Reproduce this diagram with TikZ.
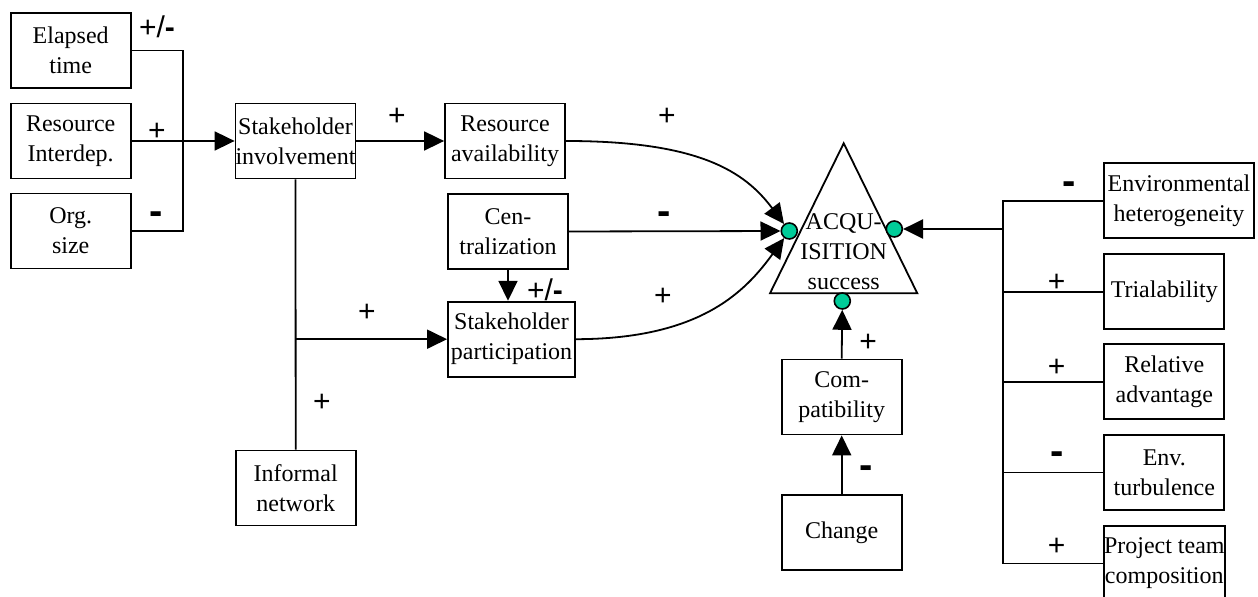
\documentclass[tikz,border=0pt]{standalone}
\usepackage{fontspec}
\setmainfont{Liberation Serif}
\newfontfamily\signfont{Liberation Sans}
\usetikzlibrary{arrows.meta}
\definecolor{tealgreen}{RGB}{0,204,153}

\begin{document}
\begin{tikzpicture}[x=0.5pt,y=-0.5pt,
    factor/.style={draw,line width=0.9pt,minimum width=60pt,minimum height=37.5pt,inner sep=0pt,align=center,
                   font=\fontsize{12}{15}\selectfont},
    link/.style={line width=0.9pt},
    arr/.style={link,-{Triangle[length=10pt,width=9.5pt]}},
    sign/.style={font=\signfont\fontsize{15}{15}\selectfont,inner sep=0pt},
    minus/.style={font=\signfont\bfseries\fontsize{20}{20}\selectfont,inner sep=0pt},
    port/.style={circle,draw,fill=tealgreen,line width=0.8pt,minimum size=8pt,inner sep=0pt}]
    \useasboundingbox (0,0) rectangle (1258,597);

    % left inputs
    \node[factor] (elapsed)  at ( 70.7, 50.5) {Elapsed\\time};
    \node[factor] (interdep) at ( 70.7,141.0) {Resource\\Interdep.};
    \node[factor] (orgsize)  at ( 70.7,231.0) {Org.\\size};
    \node[factor] (involve)  at (295.5,141.0) {Stakeholder\\involvement};
    \node[factor] (informal) at (295.7,488.0) {Informal\\network};
    \node[factor] (avail)    at (505.0,141.0) {Resource\\availability};
    \node[factor] (central)  at (508.0,231.5) {Cen-\\tralization};
    \node[factor,minimum width=63.5pt] (particip) at (511.5,339.2) {Stakeholder\\participation};

    % goal
    \draw[link] (843.7,143.3) -- (917.3,293.3) -- (770.0,293.3) -- cycle;
    \node[align=center,inner sep=0pt,font=\fontsize{12}{15}\selectfont] (goal) at (843.7,252) {ACQU-\\ISITION\\success};
    \node[port] (lcirc) at (789.3,231.0) {};
    \node[port] (rcirc) at (894.3,229.0) {};
    \node[port] (bcirc) at (842.3,301.0) {};

    \node[factor] (compat) at (841.7,397.0) {Com-\\patibility};
    \node[factor] (change) at (841.7,532.5) {Change};

    % right inputs
    \node[factor,minimum width=75pt] (envhet) at (1179.0,200.8) {Environmental\\heterogeneity};
    \node[factor] (trial)    at (1164.3,291.8) {Trialability};
    \node[factor] (relative) at (1164.3,381.8) {Relative\\advantage};
    \node[factor] (turb)     at (1164.3,472.5) {Env.\\turbulence};
    \node[factor] (team)     at (1164.3,563.5) {Project team\\composition};

    % left bus
    \coordinate (lbustop) at (182.7,50.5);
    \coordinate (lbusbot) at (182.7,231.0);
    \draw[link] (elapsed.east) -- (lbustop) -- (lbusbot) -- (orgsize.east);
    \draw[arr] (interdep.east) -- (involve.west);
    \draw[arr] (involve.east) -- (avail.west);
    \draw[link] (involve.south) -- (informal.north);
    \draw[arr] (involve.south |- particip.west) -- (particip.west);
    \draw[arr] (central.south) -- (central.south |- particip.north);

    % into the goal
    \draw[arr] (avail.east) .. controls (700,141) and (745,172) .. (lcirc);
    \draw[arr] (central.east) -- (lcirc);
    \draw[arr] (particip.east) .. controls (700,339) and (745,292) .. (lcirc);
    \draw[arr] (compat.north) -- (bcirc);
    \draw[arr] (change.north) -- (compat.south);

    % right bus
    \coordinate (rbustop) at (1003.3,200.8);
    \coordinate (rbusbot) at (1003.3,563.5);
    \coordinate (rjoin)   at (1003.3,229.0);
    \draw[link] (envhet.west) -- (rbustop) -- (rbusbot) -- (team.west);
    \draw[link] (trial.west) -- (trial.west -| rbustop);
    \draw[link] (relative.west) -- (relative.west -| rbustop);
    \draw[link] (turb.west) -- (turb.west -| rbustop);
    \draw[arr,line width=1.3pt] (rjoin) -- (rcirc);

    % signs
    \node[sign]  (s1)  at (157,27)    {+/\textbf{-}};
    \node[sign]  (s2)  at (157,132)   {+};
    \node[minus] (s3)  at (156,218)   {-};
    \node[sign]  (s4)  at (397,117)   {+};
    \node[sign]  (s5)  at (367,313)   {+};
    \node[sign]  (s6)  at (322,403)   {+};
    \node[sign]  (s7)  at (545,290)   {+/\textbf{-}};
    \node[sign]  (s8)  at (667,117)   {+};
    \node[minus] (s9)  at (664,218)   {-};
    \node[sign]  (s10) at (663,297)   {+};
    \node[sign]  (s11) at (868,343)   {+};
    \node[minus] (s12) at (866,472)   {-};
    \node[minus] (s13) at (1069,188)  {-};
    \node[sign]  (s14) at (1056.7,283) {+};
    \node[sign]  (s15) at (1056.7,368) {+};
    \node[minus] (s16) at (1056.7,458) {-};
    \node[sign]  (s17) at (1056.7,547) {+};
\end{tikzpicture}
\end{document}
